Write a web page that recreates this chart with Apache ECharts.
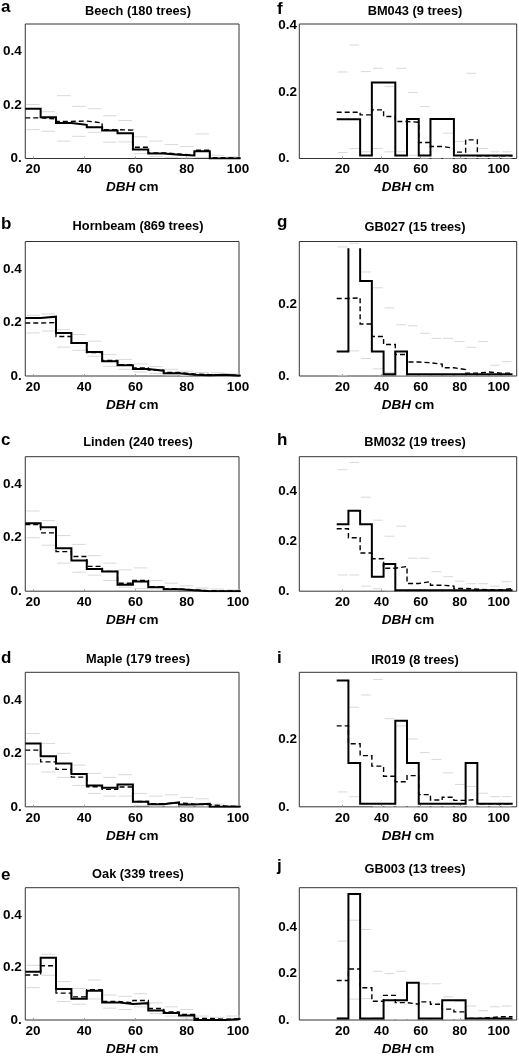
<!DOCTYPE html>
<html><head><meta charset="utf-8">
<script src="https://cdn.jsdelivr.net/npm/echarts@6/dist/echarts.min.js"></script>
<style>html,body{margin:0;padding:0;background:#fff}#c{width:519px;height:1057px}</style>
</head><body><div id="c"></div>
<script>
// ---- data ----
const edges = [17,23,29,35,41,47,53,59,65,71,77,83,89,95,101,107];
const xTicks = [20,40,60,80,100];
const yTicks = [0,0.2,0.4];

const beechObs = [0.186,0.154,0.133,0.126,0.117,0.105,0.094,0.034,0.019,0.014,0.011,0.027,0,0];
const beechExp = [0.152,0.148,0.139,0.140,0.133,0.108,0.106,0.042,0.021,0.017,0.012,0.031,0.003,0.002];
const beechHi  = [0.202,0.175,0.235,0.195,0.186,0.160,0.142,0.081,0.065,0.052,0.045,0.092,0.012,0.006];
const beechLo  = [0.108,0.102,0.065,0.083,0.098,0.061,0.062,0.018,0.008,0.004,0.002,0.004,0,0];

const hornObs = [0.217,0.222,0.161,0.123,0.090,0.055,0.040,0.026,0.020,0.010,0.005,0.003,0.005,0.001];
const hornExp = [0.198,0.200,0.148,0.123,0.088,0.058,0.042,0.030,0.022,0.013,0.008,0.005,0.004,0.002];
const hornHi  = [0.227,0.232,0.173,0.155,0.130,0.080,0.062,0.045,0.035,0.025,0.018,0.013,0.012,0.008];
const hornLo  = [0.161,0.168,0.108,0.096,0.074,0.036,0.025,0.015,0.010,0.004,0.002,0.001,0,0];

const lindObs = [0.254,0.239,0.161,0.115,0.083,0.074,0.024,0.036,0.015,0.007,0.004,0,0,0];
const lindExp = [0.249,0.218,0.148,0.130,0.093,0.074,0.030,0.040,0.017,0.009,0.005,0.002,0.001,0];
const lindHi  = [0.300,0.264,0.208,0.175,0.133,0.105,0.080,0.087,0.040,0.030,0.020,0.012,0.008,0.005];
const lindLo  = [0.200,0.172,0.105,0.071,0.060,0.040,0.015,0.010,0.004,0,0,0,0,0];

const mapObs = [0.237,0.189,0.162,0.123,0.080,0.071,0.083,0.019,0.010,0.017,0.009,0.011,0,0];
const mapExp = [0.212,0.168,0.140,0.111,0.075,0.065,0.074,0.020,0.012,0.015,0.010,0.008,0.003,0.001];
const mapHi  = [0.274,0.237,0.200,0.156,0.125,0.110,0.120,0.050,0.040,0.045,0.035,0.030,0.010,0.005];
const mapLo  = [0.160,0.130,0.110,0.080,0.050,0.040,0.040,0.005,0,0,0,0,0,0];

const oakObs = [0.183,0.237,0.118,0.081,0.111,0.067,0.061,0.064,0.036,0.027,0.017,0,0,0.004];
const oakExp = [0.171,0.206,0.102,0.088,0.115,0.071,0.065,0.074,0.044,0.031,0.021,0.006,0.003,0.004];
const oakHi  = [0.208,0.250,0.146,0.120,0.152,0.095,0.090,0.100,0.065,0.050,0.040,0.015,0.010,0.015];
const oakLo  = [0.123,0.170,0.070,0.060,0.080,0.045,0.040,0.050,0.025,0.015,0.008,0,0,0];

const bm043Obs = [0.118,0.118,0.009,0.228,0.228,0.009,0.119,0.009,0.119,0.119,0.009,0.009,0.009,0.009,0.009];
const bm043Exp = [0.139,0.139,0.131,0.146,0.126,0.111,0.109,0.048,0.036,0.031,0.019,0.056,0.008,0.008,0.008];
const bm043Hi  = [0.260,0.341,0.261,0.271,0.216,0.271,0.198,0.156,0.120,0.076,0.051,0.256,0.030,0.020,0.020];
const bm043Lo  = [0.018,0.030,0.020,0.030,0.020,0.020,0.010,0,0,0,0,0,0,0,0];

const gb027Obs = [0.068,0.400,0.265,0.068,0.005,0.068,0.005,0.005,0.005,0.005,0.005,0.005,0.005,0.005,0.005];
const gb027Exp = [0.216,0.218,0.145,0.110,0.088,0.060,0.039,0.037,0.033,0.023,0.018,0.008,0.011,0.008,0.008];
const gb027Hi  = [0.360,0.370,0.290,0.246,0.190,0.143,0.140,0.119,0.105,0.105,0.096,0.080,0.096,0.030,0.040];
const gb027Lo  = [0,0.070,0.049,0.020,0.010,0,0,0,0,0,0,0,0,0,0];

const bm032Obs = [0.268,0.322,0.268,0.058,0.109,0.004,0.004,0.004,0.004,0.004,0.004,0.004,0.004,0.004,0.004];
const bm032Exp = [0.250,0.214,0.153,0.130,0.092,0.099,0.031,0.038,0.024,0.020,0.011,0.008,0.006,0.005,0.011];
const bm032Hi  = [0.486,0.515,0.376,0.284,0.220,0.260,0.132,0.132,0.078,0.058,0.040,0.030,0.030,0.020,0.038];
const bm032Lo  = [0.065,0.065,0.020,0.010,0,0,0,0,0,0,0,0,0,0,0];

const ir019Obs = [0.373,0.129,0.009,0.009,0.009,0.254,0.129,0.009,0.009,0.009,0.009,0.129,0.009,0.009,0.009];
const ir019Exp = [0.239,0.186,0.151,0.120,0.090,0.074,0.092,0.036,0.020,0.028,0.019,0.022,0.009,0.009,0.009];
const ir019Hi  = [0.400,0.294,0.330,0.376,0.260,0.239,0.200,0.160,0.140,0.100,0.066,0.060,0.040,0.030,0.030];
const ir019Lo  = [0.044,0.030,0.010,0,0,0,0,0,0,0,0,0,0,0,0];

const gb003Obs = [0.007,0.543,0.007,0.007,0.085,0.085,0.160,0.007,0.007,0.085,0.085,0.007,0.007,0.007,0.007];
const gb003Exp = [0.170,0.220,0.139,0.081,0.106,0.075,0.068,0.078,0.068,0.047,0.035,0.007,0.010,0.014,0.014];
const gb003Hi  = [0.340,0.430,0.390,0.210,0.200,0.210,0.160,0.156,0.156,0.100,0.080,0.060,0.040,0.057,0.060];
const gb003Lo  = [0.010,0.090,0.092,0.010,0,0,0,0,0,0,0,0,0,0,0];

// ---- panels ----
const panels = [
  {letter:'a', title:'Beech (180 trees)',    obs:beechObs, exp:beechExp, hi:beechHi, lo:beechLo, col:0, row:0, yMax:0.503},
  {letter:'b', title:'Hornbeam (869 trees)', obs:hornObs,  exp:hornExp,  hi:hornHi,  lo:hornLo,  col:0, row:1, yMax:0.503},
  {letter:'c', title:'Linden (240 trees)',   obs:lindObs,  exp:lindExp,  hi:lindHi,  lo:lindLo,  col:0, row:2, yMax:0.503},
  {letter:'d', title:'Maple (179 trees)',    obs:mapObs,   exp:mapExp,   hi:mapHi,   lo:mapLo,   col:0, row:3, yMax:0.503},
  {letter:'e', title:'Oak (339 trees)',      obs:oakObs,   exp:oakExp,   hi:oakHi,   lo:oakLo,   col:0, row:4, yMax:0.503},
  {letter:'f', title:'BM043 (9 trees)',      obs:bm043Obs, exp:bm043Exp, hi:bm043Hi, lo:bm043Lo, col:1, row:0, yMax:0.404},
  {letter:'g', title:'GB027 (15 trees)',     obs:gb027Obs, exp:gb027Exp, hi:gb027Hi, lo:gb027Lo, col:1, row:1, yMax:0.375, clip:0.356},
  {letter:'h', title:'BM032 (19 trees)',     obs:bm032Obs, exp:bm032Exp, hi:bm032Hi, lo:bm032Lo, col:1, row:2, yMax:0.538},
  {letter:'i', title:'IR019 (8 trees)',      obs:ir019Obs, exp:ir019Exp, hi:ir019Hi, lo:ir019Lo, col:1, row:3, yMax:0.397},
  {letter:'j', title:'GB003 (13 trees)',     obs:gb003Obs, exp:gb003Exp, hi:gb003Hi, lo:gb003Lo, col:1, row:4, yMax:0.570}
];

// ---- layout ----
const FONT = '"Liberation Sans", Arial, Helvetica, sans-serif';
const rowTops = [24, 241.5, 456.7, 672.3, 887.7];
const gridH = 134.5;
const colLeft = [21, 299.3];
const colWidth = [218, 217.4];
const colXMin = [17, -2.14];
const colXMax = [100.4, 109.14];
const titleX = [138, 415];
const letterX = [1, 277];
const titleY = [11.5, 226.7, 442.7, 659, 874.7, 11.7, 227.7, 442.8, 660, 869.3];
const letterY = [7.4, 224.1, 440.8, 658.1, 875.8, 9.1, 222.8, 440.8, 658.1, 866.4];

function stepPoints(vals, clip) {
  const pts = [];
  for (let k = 0; k < vals.length; k++) {
    const v = vals[k];
    if (clip !== undefined && v > clip) {
      pts.push([edges[k], clip]);
      pts.push([(edges[k] + edges[k+1]) / 2, '-']);
      pts.push([edges[k+1], clip]);
    } else {
      pts.push([edges[k], v]);
      pts.push([edges[k+1], v]);
    }
  }
  return pts;
}

const grid = [], xAxis = [], yAxis = [], series = [], graphic = [];
panels.forEach((p, i) => {
  const c = p.col;
  grid.push({left: colLeft[c], top: rowTops[p.row], width: colWidth[c], height: gridH,
    show: true, borderColor: '#333', borderWidth: 1, backgroundColor: 'transparent'});
  xAxis.push({type: 'value', gridIndex: i, min: colXMin[c], max: colXMax[c],
    axisLine: {show: false}, splitLine: {show: false},
    axisTick: {show: true, inside: true, length: 2, customValues: xTicks, lineStyle: {color: '#999'}},
    axisLabel: {customValues: xTicks, margin: 4, color: '#000', fontSize: 13.5, fontWeight: 'bold', fontFamily: FONT},
    name: '{i|DBH} cm', nameLocation: 'middle', nameGap: 22,
    nameTextStyle: {color: '#000', fontSize: 13.5, fontWeight: 'bold', fontFamily: FONT,
      rich: {i: {fontStyle: 'italic', fontWeight: 'bold', fontSize: 13.5, fontFamily: FONT, color: '#000'}}}
  });
  yAxis.push({type: 'value', gridIndex: i, min: 0, max: p.yMax,
    axisLine: {show: false}, splitLine: {show: false}, axisTick: {show: false},
    axisLabel: {customValues: yTicks.filter(t => t <= p.yMax + 1e-9),
      formatter: v => (v === 0 ? '0.' : v.toFixed(1)),
      align: c === 0 ? 'right' : 'left', margin: c === 0 ? 3.5 : 21,
      color: '#000', fontSize: 13.5, fontWeight: 'bold', fontFamily: FONT}
  });
  const grayData = [];
  for (let k = 0; k < p.hi.length; k++) {
    grayData.push([edges[k], edges[k+1], p.hi[k]]);
    grayData.push([edges[k], edges[k+1], p.lo[k]]);
  }
  series.push({type: 'custom', xAxisIndex: i, yAxisIndex: i, clip: true, z: 1,
    encode: {x: [0, 1], y: 2}, data: grayData,
    renderItem: (params, api) => {
      const a = api.coord([api.value(0), api.value(2)]);
      const b = api.coord([api.value(1), api.value(2)]);
      return {type: 'line', shape: {x1: a[0] + 1, y1: a[1], x2: b[0] - 1, y2: b[1]},
        style: {stroke: '#d9d9d9', lineWidth: 1}};
    }
  });
  series.push({type: 'line', xAxisIndex: i, yAxisIndex: i, data: stepPoints(p.exp),
    showSymbol: false, symbol: 'none', z: 3, connectNulls: false,
    lineStyle: {color: '#000', width: 1.4, type: [5, 3], join: 'miter'}});
  series.push({type: 'line', xAxisIndex: i, yAxisIndex: i, data: stepPoints(p.obs, p.clip),
    showSymbol: false, symbol: 'none', z: 4, connectNulls: false,
    lineStyle: {color: '#000', width: 2, join: 'miter'}});
  graphic.push({type: 'text', x: letterX[c], y: letterY[i],
    style: {text: p.letter, fill: '#000', font: 'bold 17px ' + FONT,
      align: 'left', verticalAlign: 'middle', textAlign: 'left', textVerticalAlign: 'middle'}});
  graphic.push({type: 'text', x: titleX[c], y: titleY[i],
    style: {text: p.title, fill: '#000', font: 'bold 12.8px ' + FONT,
      align: 'center', verticalAlign: 'middle', textAlign: 'center', textVerticalAlign: 'middle'}});
});

const chart = echarts.init(document.getElementById('c'), null, {renderer: 'canvas'});
chart.setOption({animation: false, backgroundColor: '#fff', grid, xAxis, yAxis, series, graphic});
</script>
</body></html>
